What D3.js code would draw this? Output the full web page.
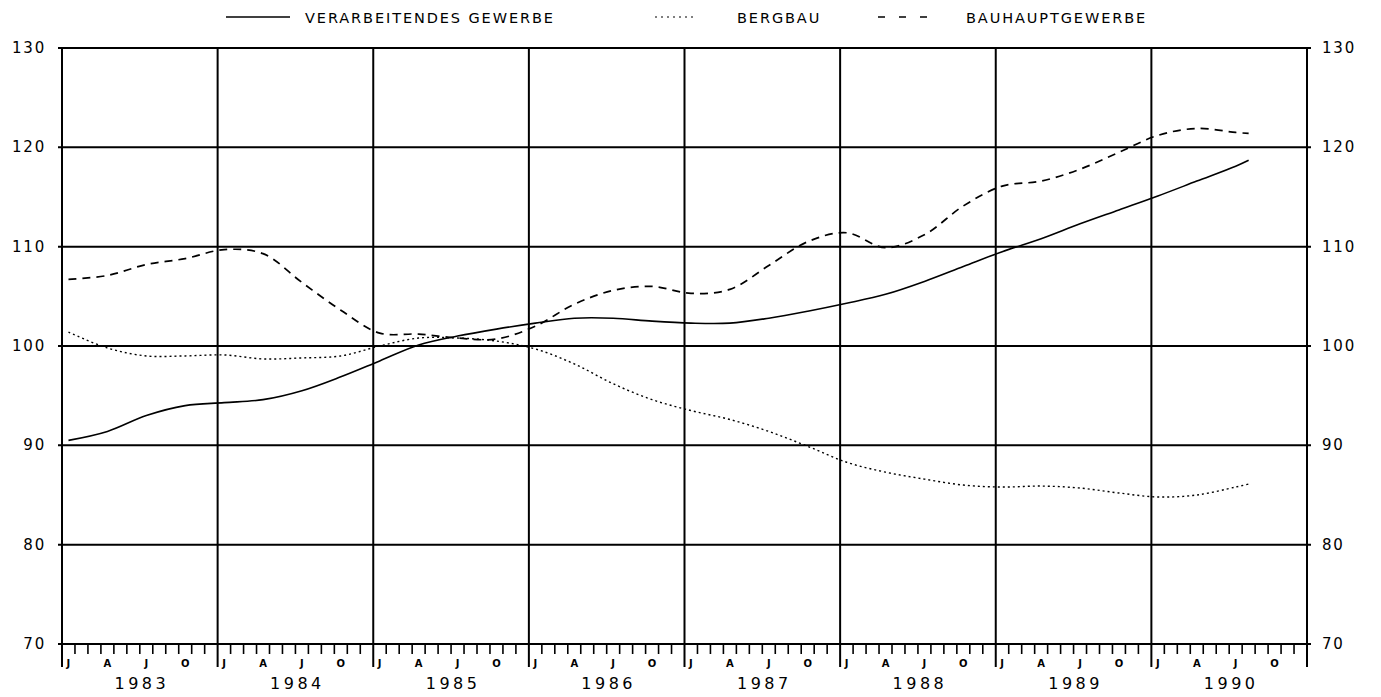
<!DOCTYPE html>
<html><head><meta charset="utf-8">
<script src="https://cdn.jsdelivr.net/npm/d3@7/dist/d3.min.js"></script>
<style>
html,body{margin:0;padding:0;background:#fff;}
svg{display:block;}
text{font-family:"DejaVu Sans",sans-serif;fill:#000;}
</style></head>
<body>
<svg id="chart" width="1381" height="697"></svg>
<script>
// ---- data (quarterly readings, month index since Jan 1983) ----
const years = [1983,1984,1985,1986,1987,1988,1989,1990];
const monthLabels = ["J","A","J","O"];
const yTicks = [70,80,90,100,110,120,130];
const months = [0,3,6,9,12,15,18,21,24,27,30,33,36,39,42,45,48,51,54,57,60,63,66,69,72,75,78,81,84,87,90,91];
const verarbeitendes = [90.5,91.4,93.0,94.0,94.3,94.6,95.5,96.9,98.5,100.1,101.0,101.7,102.3,102.8,102.8,102.5,102.3,102.3,102.8,103.5,104.3,105.2,106.5,108.0,109.5,110.8,112.3,113.7,115.1,116.6,118.1,118.7];
const bergbau = [101.4,99.8,99.0,99.0,99.1,98.7,98.8,99.0,100.0,100.8,100.8,100.5,99.7,98.2,96.2,94.6,93.5,92.6,91.4,89.9,88.3,87.3,86.6,86.0,85.8,85.9,85.7,85.2,84.8,85.0,85.8,86.1];
const bauhaupt = [106.7,107.1,108.2,108.8,109.7,109.3,106.4,103.6,101.3,101.2,100.8,100.7,102.0,104.2,105.6,106.0,105.3,105.7,108.1,110.5,111.4,109.9,111.2,114.1,116.1,116.6,117.8,119.5,121.2,121.9,121.5,121.4];
const seriesNames = ["VERARBEITENDES GEWERBE","BERGBAU","BAUHAUPTGEWERBE"];

const svg = d3.select("#chart");
const L = 62, R = 1307, T = 48, B = 644;
const x = d3.scaleLinear().domain([0, years.length*12]).range([L, R]);
const y = d3.scaleLinear().domain([70,130]).range([B, T]);

// horizontal grid
svg.append("g").selectAll("line").data(yTicks).join("line")
  .attr("x1", L-4).attr("x2", R+4)
  .attr("y1", d=>y(d)).attr("y2", d=>y(d))
  .attr("stroke","#000").attr("stroke-width",2);
// vertical year lines
const yearBounds = d3.range(years.length+1);
svg.append("g").selectAll("line").data(yearBounds).join("line")
  .attr("x1", d=>x(d*12)).attr("x2", d=>x(d*12))
  .attr("y1", T).attr("y2", B+23)
  .attr("stroke","#000").attr("stroke-width",2);

// month ticks
const allMonths = d3.range(years.length*12);
svg.append("g").selectAll("line").data(allMonths.filter(m=>m%12!==0)).join("line")
  .attr("x1", d=>x(d)).attr("x2", d=>x(d))
  .attr("y1", B).attr("y2", B+10)
  .attr("stroke","#000").attr("stroke-width",1.6);

// month labels
const mlData = [];
years.forEach((yr,i)=>monthLabels.forEach((ml,j)=>mlData.push({m:i*12+j*3, t:ml})));
svg.append("g").selectAll("text").data(mlData).join("text")
  .attr("x", d=>x(d.m+0.5)).attr("y", B+23)
  .attr("text-anchor","middle").attr("font-size",10).attr("font-weight","bold")
  .text(d=>d.t);
// year labels
svg.append("g").selectAll("text").data(years).join("text")
  .attr("x", (d,i)=>x(i*12+6)+2).attr("y", B+45)
  .attr("text-anchor","middle").attr("font-size",16).attr("letter-spacing",3.5)
  .text(d=>d);

// y labels left & right
svg.append("g").selectAll("text").data(yTicks).join("text")
  .attr("x", 46).attr("y", d=>y(d)+5)
  .attr("text-anchor","end").attr("font-size",15).attr("letter-spacing",1.8)
  .text(d=>d);
svg.append("g").selectAll("text").data(yTicks).join("text")
  .attr("x", 1322).attr("y", d=>y(d)+5)
  .attr("text-anchor","start").attr("font-size",15).attr("letter-spacing",1.8)
  .text(d=>d);

// series
const styles = [
  {data: verarbeitendes, dash: null, w: 1.6},
  {data: bergbau, dash: "2,3", w: 1.4},
  {data: bauhaupt, dash: "8,6", w: 1.7}
];
const line = d3.line().x(d=>x(d[0]+0.5)).y(d=>y(d[1])).curve(d3.curveCatmullRom.alpha(0.5));
styles.forEach(s=>{
  svg.append("path")
    .datum(months.map((m,i)=>[m, s.data[i]]))
    .attr("d", line)
    .attr("fill","none").attr("stroke","#000")
    .attr("stroke-width", s.w)
    .attr("stroke-dasharray", s.dash);
});

// legend
const legendPos = [
  {x1:226, x2:290, tx:305},
  {x1:655, x2:697, tx:737},
  {x1:878, x2:930, tx:966}
];
legendPos.forEach((p,i)=>{
  svg.append("line").attr("x1",p.x1).attr("x2",p.x2).attr("y1",17).attr("y2",17)
    .attr("stroke","#000").attr("stroke-width", i===1?1.2:1.6)
    .attr("stroke-dasharray", i===0?null:(i===1?"2,4":"7,14"));
  svg.append("text").attr("x",p.tx).attr("y",22.5).attr("font-size",14.5)
    .attr("letter-spacing",1.9).text(seriesNames[i]);
});
</script>
</body></html>
